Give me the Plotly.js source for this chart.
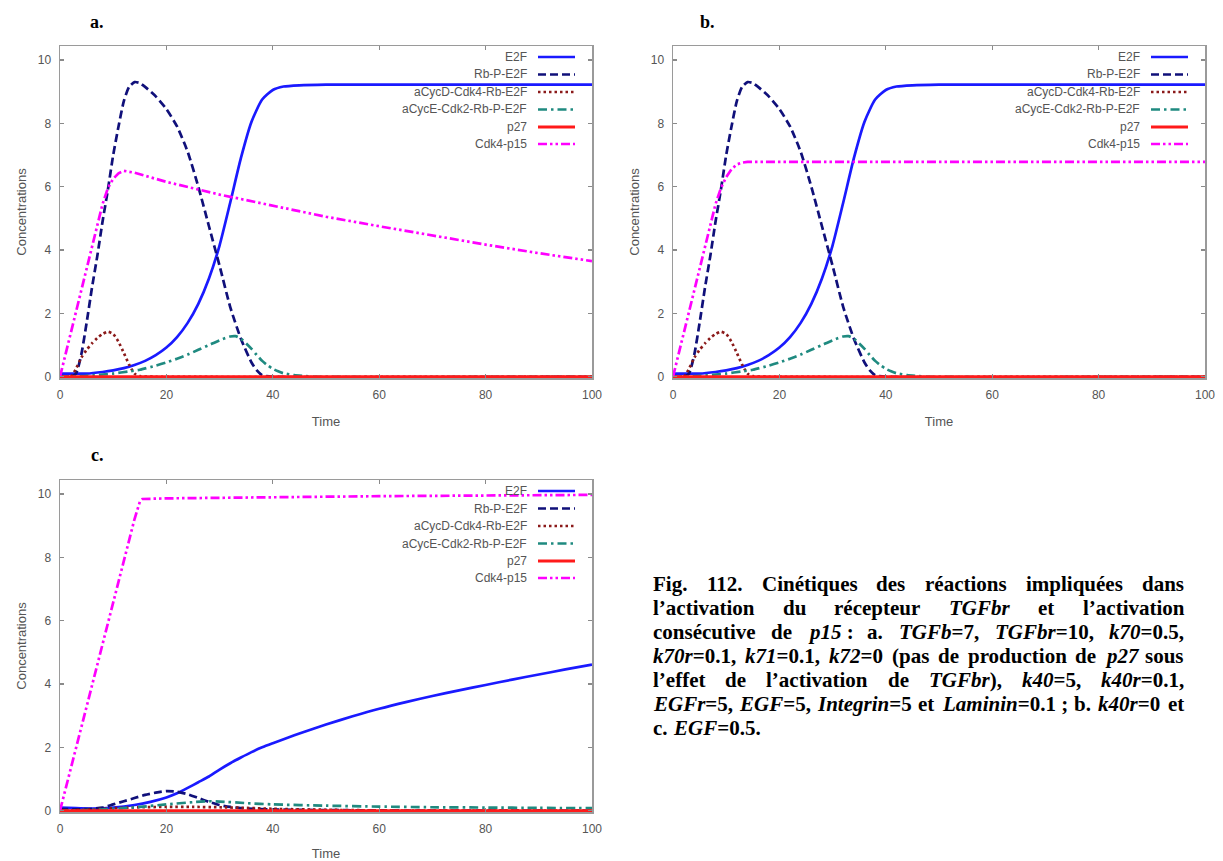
<!DOCTYPE html>
<html>
<head>
<meta charset="utf-8">
<script src="https://cdn.plot.ly/plotly-3.0.1.min.js"></script>
<style>
html,body{margin:0;padding:0;background:#fff;}
#chart{width:1223px;height:861px;}
</style>
</head>
<body>
<div id="chart"></div>
<script>
// ---------------- DATA ----------------
const seriesNames = ["E2F", "Rb-P-E2F", "aCycD-Cdk4-Rb-E2F", "aCycE-Cdk2-Rb-P-E2F", "p27", "Cdk4-p15"];
const xTicks = [0, 20, 40, 60, 80, 100];
const yTicks = [0, 2, 4, 6, 8, 10];
const panelLabels = ["a.", "b.", "c."];
const xTitle = "Time";
const yTitle = "Concentrations";

// Panels a and b (identical except Cdk4-p15)
const tE2F_ab = [0, 2, 5, 8, 10, 12, 14, 16, 18, 20, 22, 24, 26, 28, 30, 32, 34, 36, 38, 40, 42, 45, 50, 100];
const vE2F_ab = [0.1, 0.1, 0.1, 0.15, 0.2, 0.27, 0.37, 0.5, 0.68, 0.92, 1.25, 1.7, 2.3, 3.1, 4.15, 5.5, 6.9, 8.05, 8.75, 9.05, 9.16, 9.2, 9.22, 9.22];

const tRb_ab = [0, 2, 3, 4, 5, 6, 7, 8, 9, 10, 11, 12, 13, 14, 15, 16, 18, 20, 22, 24, 26, 28, 30, 32, 34, 36, 37, 38, 40, 100];
const vRb_ab = [0, 0, 0.1, 0.7, 1.7, 2.8, 3.8, 4.9, 5.9, 7.0, 7.9, 8.7, 9.15, 9.3, 9.27, 9.15, 8.85, 8.45, 7.9, 7.1, 6.0, 4.75, 3.5, 2.2, 1.2, 0.45, 0.2, 0.05, 0, 0];

const tCycD_ab = [0, 2, 3, 4, 5, 6, 7, 8, 9, 10, 11, 12, 13, 14, 15, 18, 100];
const vCycD_ab = [0, 0, 0.25, 0.6, 0.85, 1.05, 1.22, 1.35, 1.42, 1.35, 1.1, 0.75, 0.38, 0.1, 0.02, 0, 0];

const tCycE_ab = [0, 5, 10, 13, 15, 18, 20, 22, 24, 26, 28, 30, 32, 33, 34, 35, 36, 37, 38, 39, 40, 41, 42, 44, 46, 48, 100];
const vCycE_ab = [0, 0.03, 0.1, 0.17, 0.22, 0.35, 0.45, 0.57, 0.7, 0.85, 1.0, 1.15, 1.27, 1.28, 1.2, 1.05, 0.88, 0.68, 0.5, 0.36, 0.25, 0.17, 0.11, 0.05, 0.02, 0, 0];

const tP27 = [0, 100];
const vP27 = [0, 0];

const tCdk4_a = [0, 2, 4, 6, 8, 9, 10, 11, 12, 14, 20, 30, 40, 50, 60, 70, 80, 90, 100];
const vCdk4_a = [0, 1.35, 2.7, 4.1, 5.45, 5.95, 6.25, 6.42, 6.5, 6.44, 6.15, 5.75, 5.39, 5.05, 4.75, 4.45, 4.17, 3.9, 3.65];

const tCdk4_b = [0, 2, 4, 6, 8, 9, 10, 11, 12, 13, 14, 100];
const vCdk4_b = [0, 1.35, 2.7, 4.1, 5.45, 5.95, 6.3, 6.55, 6.7, 6.76, 6.78, 6.78];

// Panel c
const tE2F_c = [0, 3, 6, 10, 14, 17, 20, 22, 24, 26, 28, 30, 32, 34, 36, 38, 40, 45, 50, 55, 60, 65, 70, 75, 80, 85, 90, 95, 100];
const vE2F_c = [0.1, 0.08, 0.07, 0.1, 0.18, 0.28, 0.42, 0.55, 0.72, 0.9, 1.08, 1.3, 1.5, 1.68, 1.85, 2.0, 2.13, 2.44, 2.72, 2.98, 3.22, 3.43, 3.62, 3.8, 3.97, 4.14, 4.3, 4.46, 4.61];

const tRb_c = [0, 5, 8, 10, 12, 14, 16, 18, 20, 22, 24, 26, 28, 30, 32, 35, 40, 50, 60, 100];
const vRb_c = [0.05, 0.05, 0.1, 0.2, 0.3, 0.4, 0.5, 0.57, 0.62, 0.6, 0.52, 0.4, 0.28, 0.18, 0.12, 0.07, 0.04, 0.02, 0.01, 0];

const tCycD_c = [0, 5, 10, 15, 20, 25, 30, 35, 40, 50, 60, 100];
const vCycD_c = [0, 0.03, 0.08, 0.11, 0.12, 0.12, 0.11, 0.09, 0.06, 0.03, 0.01, 0];

const tCycE_c = [0, 5, 10, 15, 20, 25, 28, 30, 35, 40, 50, 60, 70, 80, 90, 100];
const vCycE_c = [0, 0.02, 0.06, 0.12, 0.2, 0.27, 0.3, 0.29, 0.24, 0.2, 0.16, 0.13, 0.11, 0.1, 0.09, 0.08];

const tCdk4_c = [0, 5, 10, 14, 15, 15.5, 20, 40, 60, 80, 100];
const vCdk4_c = [0, 3.3, 6.55, 9.2, 9.75, 9.84, 9.86, 9.9, 9.93, 9.95, 9.97];

const captionLines = [
  "Fig. 112. Cinétiques des réactions impliquées dans",
  "l’activation du récepteur *TGFbr* et l’activation",
  "consécutive de *p15*\u00a0: a. *TGFb*=7, *TGFbr*=10, *k70*=0.5,",
  "*k70r*=0.1, *k71*=0.1, *k72*=0 (pas de production de *p27* sous",
  "l’effet de l’activation de *TGFbr*), *k40*=5, *k40r*=0.1,",
  "*EGFr*=5, *EGF*=5, *Integrin*=5 et *Laminin*=0.1\u00a0; b. *k40r*=0 et",
  "c. *EGF*=0.5."
];

// ---------------- STYLE / LAYOUT ----------------
const W = 1223, H = 861;
const styles = [
  {color: '#1a1aff', dash: 'solid', width: 2.7, shape: 'spline'},
  {color: '#10107a', dash: '8px,4px', width: 2.7, shape: 'spline'},
  {color: '#8b1a1a', dash: '2.5px,3px', width: 2.7, shape: 'spline'},
  {color: '#1f8a80', dash: '9px,4px,2.5px,4px', width: 2.7, shape: 'spline'},
  {color: '#ff1a1a', dash: 'solid', width: 3, shape: 'linear'},
  {color: '#ff00ff', dash: '9px,3px,2.5px,3px,2.5px,3px', width: 2.7, shape: 'linear'}
];

const panels = [
  {xa: 'x', ya: 'y', left: 60, right: 592, top: 46, bottom: 378,
   series: [[tE2F_ab, vE2F_ab], [tRb_ab, vRb_ab], [tCycD_ab, vCycD_ab], [tCycE_ab, vCycE_ab], [tP27, vP27], [tCdk4_a, vCdk4_a]],
   label: [97, 22]},
  {xa: 'x2', ya: 'y2', left: 673, right: 1205, top: 46, bottom: 378,
   series: [[tE2F_ab, vE2F_ab], [tRb_ab, vRb_ab], [tCycD_ab, vCycD_ab], [tCycE_ab, vCycE_ab], [tP27, vP27], [tCdk4_b, vCdk4_b]],
   label: [708, 22]},
  {xa: 'x3', ya: 'y3', left: 60, right: 592, top: 480, bottom: 812,
   series: [[tE2F_c, vE2F_c], [tRb_c, vRb_c], [tCycD_c, vCycD_c], [tCycE_c, vCycE_c], [tP27, vP27], [tCdk4_c, vCdk4_c]],
   label: [97, 455]}
];

const gray = '#555555';
const sansFont = 'Liberation Sans, Arial, sans-serif';
const traces = [];
const layout = {
  width: W, height: H,
  margin: {l: 0, r: 0, t: 0, b: 0},
  paper_bgcolor: '#ffffff', plot_bgcolor: '#ffffff',
  showlegend: false,
  annotations: [], shapes: []
};

const legendOffsets = [11, 28.5, 46, 63.5, 81, 98];

panels.forEach((p, pi) => {
  const xKey = 'xaxis' + (pi === 0 ? '' : pi + 1);
  const yKey = 'yaxis' + (pi === 0 ? '' : pi + 1);
  const common = {
    ticks: 'inside', ticklen: 4, tickwidth: 1.2, tickcolor: '#8a8a8a',
    showline: true, linecolor: '#9a9a9a', linewidth: 1.5, mirror: 'ticks',
    showgrid: false, zeroline: false,
    tickfont: {family: sansFont, size: 12, color: gray},
    ticklabelstandoff: 5, fixedrange: true
  };
  layout[xKey] = Object.assign({}, common, {
    domain: [p.left / W, p.right / W], anchor: p.ya,
    range: [0, 100], tickmode: 'array', tickvals: xTicks, ticktext: xTicks.map(String),
    title: {text: xTitle, font: {family: sansFont, size: 13, color: gray}, standoff: 16}
  });
  layout[yKey] = Object.assign({}, common, {
    domain: [(H - p.bottom) / H, (H - p.top) / H], anchor: p.xa,
    range: [-0.04, 10.44], tickmode: 'array', tickvals: yTicks, ticktext: yTicks.map(String),
    title: {text: yTitle, font: {family: sansFont, size: 13, color: gray}, standoff: 8}
  });

  p.series.forEach((s, si) => {
    const st = styles[si];
    traces.push({
      type: 'scatter', mode: 'lines', name: seriesNames[si],
      x: s[0], y: s[1], xaxis: p.xa, yaxis: p.ya,
      line: {color: st.color, dash: st.dash, width: st.width, shape: st.shape, smoothing: 0.6},
      hoverinfo: 'skip'
    });
  });

  // gnuplot-style key: text right-aligned, sample on the right
  const pw = p.right - p.left, ph = p.bottom - p.top;
  seriesNames.forEach((nm, si) => {
    const st = styles[si];
    const yd = 1 - legendOffsets[si] / ph;
    layout.annotations.push({
      xref: p.xa + ' domain', yref: p.ya + ' domain',
      x: 1 - 64 / pw, y: yd, xanchor: 'right', yanchor: 'middle',
      text: nm, showarrow: false, borderpad: 0,
      font: {family: sansFont, size: 12, color: gray}
    });
    layout.shapes.push({
      type: 'line', xref: p.xa + ' domain', yref: p.ya + ' domain',
      x0: 1 - 54 / pw, x1: 1 - 17 / pw, y0: yd, y1: yd,
      line: {color: st.color, width: st.width, dash: st.dash}
    });
  });

  layout.annotations.push({
    xref: 'paper', yref: 'paper', x: p.label[0] / W, y: 1 - p.label[1] / H,
    xanchor: 'center', yanchor: 'middle', showarrow: false,
    text: '<b>' + panelLabels[pi] + '</b>',
    font: {family: 'Liberation Serif, Times New Roman, serif', size: 18, color: '#000'}
  });
});

// ---------------- CAPTION (justified) ----------------
const capFontSize = 21;
const capLeft = 652, capRight = 1183, capTop = 584, capStep = 24.0;
const ctx = document.createElement('canvas').getContext('2d');
function pieceFont(it) { return (it ? 'italic ' : '') + 'bold ' + capFontSize + 'px "Liberation Serif"'; }
function parseWord(w) {
  return w.split('*').map((t, i) => [t, i % 2 === 1]).filter(pc => pc[0].length > 0);
}
function measure(pieces) {
  let w = 0;
  pieces.forEach(pc => { ctx.font = pieceFont(pc[1]); w += ctx.measureText(pc[0]).width; });
  return w;
}
ctx.font = pieceFont(false);
const spaceW = ctx.measureText(' ').width;

captionLines.forEach((line, li) => {
  const words = line.split(' ').map(parseWord);
  const widths = words.map(measure);
  const total = widths.reduce((a, b) => a + b, 0);
  const last = li === captionLines.length - 1;
  let gap = (last || words.length < 2) ? spaceW : (capRight - capLeft - total) / (words.length - 1);
  if (gap < spaceW * 0.6) gap = spaceW * 0.6;
  let xpos = capLeft;
  const yc = capTop + li * capStep;
  words.forEach((pcs, wi) => {
    const txt = '<b>' + pcs.map(pc => pc[1] ? '<i>' + pc[0] + '</i>' : pc[0]).join('') + '</b>';
    layout.annotations.push({
      xref: 'paper', yref: 'paper', x: xpos / W, y: 1 - yc / H,
      xanchor: 'left', yanchor: 'middle', showarrow: false, borderpad: 0,
      text: txt,
      font: {family: 'Liberation Serif, Times New Roman, serif', size: capFontSize, color: '#000'}
    });
    xpos += widths[wi] + gap;
  });
});

Plotly.newPlot('chart', traces, layout, {displayModeBar: false, staticPlot: true});
</script>
</body>
</html>
